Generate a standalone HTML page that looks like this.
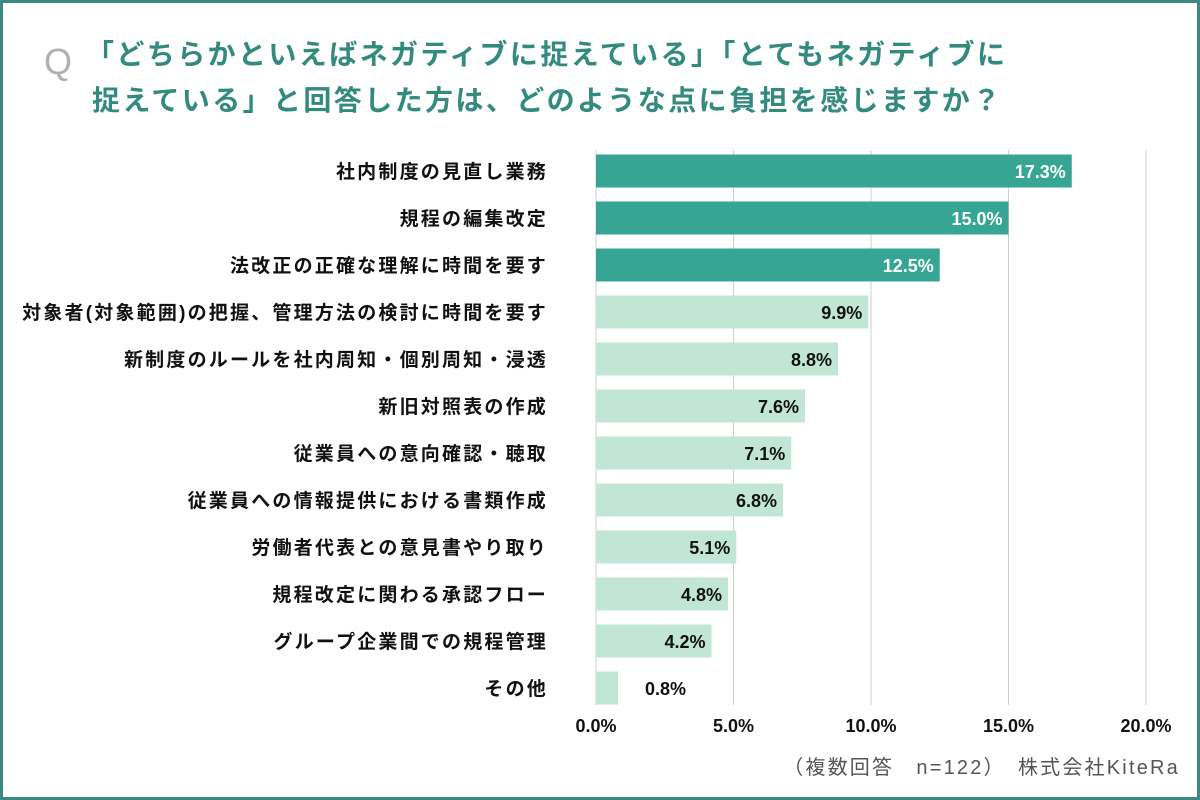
<!DOCTYPE html>
<html><head><meta charset="utf-8"><style>
html,body{margin:0;padding:0;background:#fff}
svg{display:block}
text{font-family:"Liberation Sans","Noto Sans CJK JP",sans-serif}
</style></head><body>
<svg id="chart" width="1200" height="800" viewBox="0 0 1200 800">
<rect x="1.5" y="1.5" width="1197" height="797" fill="#fff" stroke="#3a8a80" stroke-width="3"/>
<text x="44" y="74" font-size="36" fill="#b0b0b0">Q</text>
<text x="86" y="64" font-size="28" font-weight="bold" letter-spacing="2.4" fill="#338a7f">「どちらかといえばネガティブに捉えている」「とてもネガティブに</text>
<text x="92" y="110" font-size="28" font-weight="bold" letter-spacing="2.4" fill="#338a7f">捉えている」と回答した方は、どのような点に負担を感じますか？</text>
<g id="grid"></g>
<g id="bars"></g>
<g id="ticks"></g>
<text x="1180" y="774" font-size="20" letter-spacing="2.2" fill="#555" text-anchor="end">（複数回答　n=122）　株式会社KiteRa</text>
</svg>
<script>
const categories=["社内制度の見直し業務","規程の編集改定","法改正の正確な理解に時間を要す","対象者(対象範囲)の把握、管理方法の検討に時間を要す","新制度のルールを社内周知・個別周知・浸透","新旧対照表の作成","従業員への意向確認・聴取","従業員への情報提供における書類作成","労働者代表との意見書やり取り","規程改定に関わる承認フロー","グループ企業間での規程管理","その他"];
const values=[17.3,15.0,12.5,9.9,8.8,7.6,7.1,6.8,5.1,4.8,4.2,0.8];
const tickValues=[0,5,10,15,20];
const tickLabels=["0.0%","5.0%","10.0%","15.0%","20.0%"];
const NS="http://www.w3.org/2000/svg";
const x=v=>596+v*27.5;
const y=i=>171+i*47;
function mk(tag,attrs,parent){const e=document.createElementNS(NS,tag);for(const k in attrs)e.setAttribute(k,attrs[k]);parent.appendChild(e);return e;}
const grid=document.getElementById('grid'),bars=document.getElementById('bars'),ticks=document.getElementById('ticks');
tickValues.forEach((t,i)=>{
  const l=mk('line',{x1:x(t),x2:x(t),y1:150,y2:705,stroke:'#cfcfcf','stroke-width':1},grid);
  
  
  const tx=mk('text',{x:x(t),y:732,'font-size':18,'font-weight':'bold','text-anchor':'middle',fill:'#111'},ticks);
  tx.textContent=tickLabels[i];
  
  
});
values.forEach((v,i)=>{
  const dark=i<3;
  const r=mk('rect',{x:x(0),y:y(i)-16.5,width:x(v)-x(0),height:33,fill:dark?'#36a593':'#c1e6d5'},bars);
  
  
  const c=mk('text',{x:548,y:y(i)+7,'font-size':19,'font-weight':'bold','letter-spacing':2.2,'text-anchor':'end',fill:'#111'},bars);
  c.textContent=categories[i];
  
  
  const outside=(x(v)-x(0))<60;
  const vl=mk('text',{x:outside?x(v)+68:x(v)-6,y:y(i)+7,'font-size':18,'font-weight':'bold','text-anchor':'end',fill:dark?'#fff':'#111'},bars);
  vl.textContent=v.toFixed(1)+'%';
  
  
});
</script>
</body></html>
